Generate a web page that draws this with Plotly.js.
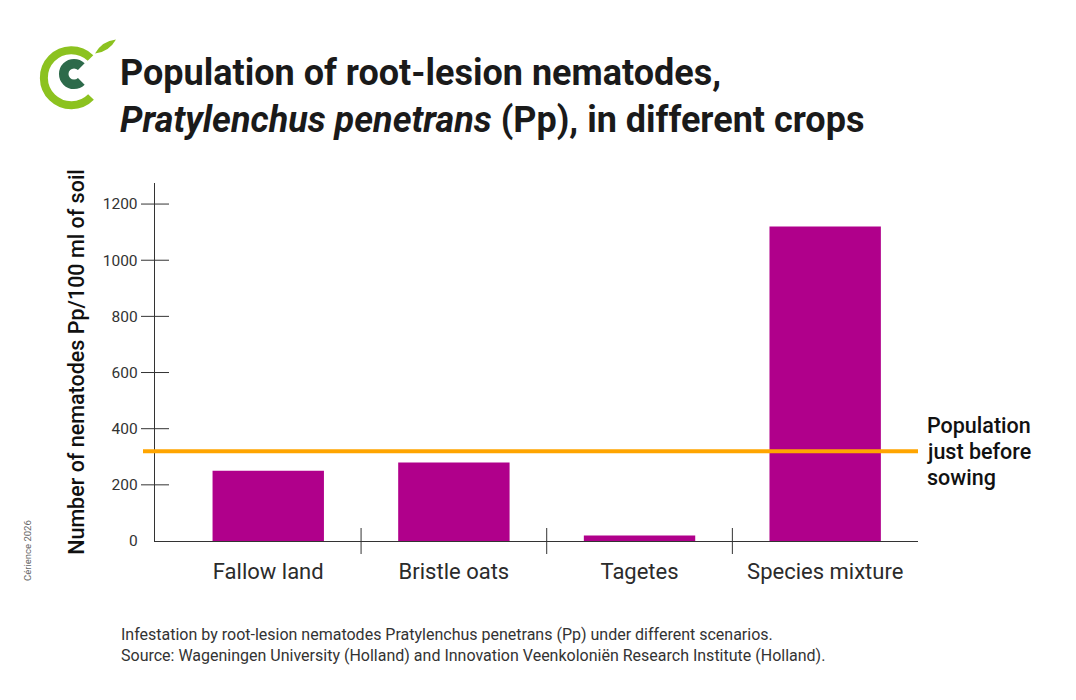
<!DOCTYPE html>
<html><head><meta charset="utf-8">
<script src="https://cdn.plot.ly/plotly-3.0.1.min.js"></script>
<style>html,body{margin:0;padding:0;background:#fff}#chart{width:1076px;height:700px}</style>
</head><body><div id="chart"></div>
<script>
// ---- data ----
const categories = ["Fallow land", "Bristle oats", "Tagetes", "Species mixture"];
const nematodes = [250, 280, 20, 1120];
const populationBeforeSowing = 320;
const yTickValues = [0, 200, 400, 600, 800, 1000, 1200];
const yTickLabels = ["0", "200", "400", "600", "800", "1000", "1200"];
const thresholdLabelLines = ["Population", "just before", "sowing"];
const titleText = "Population of root-lesion nematodes,<br><i>Pratylenchus penetrans</i> (Pp), in different crops";
const yAxisTitle = "Number of nematodes Pp/100 ml of soil";
const footnote = "Infestation by root-lesion nematodes Pratylenchus penetrans (Pp) under different scenarios.<br>Source: Wageningen University (Holland) and Innovation Veenkoloniën Research Institute (Holland).";
const credit = "Cérience 2026";

// ---- geometry helpers ----
const W = 1076, H = 700, M = {l: 155, r: 158, t: 183, b: 159};
const pw = W - M.l - M.r, ph = H - M.t - M.b;
const px = x => (x - M.l) / pw;
const py = y => (H - M.b - y) / ph;

const FONT = "Roboto, 'DejaVu Sans', sans-serif";
const barColor = "#B0008B";
const lineColor = "#FFA500";
const axisColor = "#333333";

// logo as inline svg
const logoSvg = `<svg xmlns="http://www.w3.org/2000/svg" viewBox="36 36 84 76" width="84" height="76">
<path d="M 90.5 56 A 27.5 27.5 0 1 0 91 95" fill="none" stroke="#8CC21F" stroke-width="8"/>
<path d="M 81.3 64.7 A 10.3 10.3 0 1 0 81.3 79.3" fill="none" stroke="#2D6A4A" stroke-width="9.5"/>
<path d="M 95 51.5 Q 102 39 116 37.5 Q 109 50 95 51.5 Z" fill="#8CC21F"/>
</svg>`;

const shapes = [];
// y cross ticks
yTickValues.filter(v => v > 0).forEach(v => shapes.push({
  type: "line", xref: "paper", yref: "y", xsizemode: "pixel", xanchor: 0,
  x0: -14, x1: 14, y0: v, y1: v, line: {color: axisColor, width: 1}
}));
// category dividers (cross the baseline)
for (let i = 1; i < categories.length; i++) {
  shapes.push({
    type: "line", xref: "x", yref: "paper", ysizemode: "pixel", yanchor: 0,
    x0: i - 0.5, x1: i - 0.5, y0: -13, y1: 13, line: {color: axisColor, width: 1}
  });
}
// threshold line
shapes.push({
  type: "line", xref: "paper", yref: "y", x0: px(143), x1: 1,
  y0: populationBeforeSowing, y1: populationBeforeSowing,
  line: {color: lineColor, width: 4}, layer: "above"
});

const trace = {
  type: "bar", x: categories, y: nematodes, width: 0.6,
  marker: {color: barColor, line: {width: 0}}, hoverinfo: "x+y"
};

const annotations = thresholdLabelLines.map((t, i) => ({
  text: t, xref: "paper", yref: "y", x: 1, y: populationBeforeSowing,
  xanchor: "left", yanchor: "middle", xshift: 7, yshift: (1 - i) * 26,
  align: "left", showarrow: false,
  font: {family: FONT, size: 21.5, color: "#111111", weight: 500}
}));
annotations.push(
  {
    text: footnote, xref: "paper", yref: "paper", x: px(119), y: py(623),
    xanchor: "left", yanchor: "top", align: "left", showarrow: false,
    font: {family: FONT, size: 16, color: "#333333"}
  },
  {
    text: credit, xref: "paper", yref: "paper", x: px(27), y: py(551),
    xanchor: "center", yanchor: "middle", textangle: -90, showarrow: false,
    font: {family: FONT, size: 9.5, color: "#666666"}
  }
);

const layout = {
  width: W, height: H, margin: M,
  paper_bgcolor: "#ffffff", plot_bgcolor: "#ffffff",
  font: {family: FONT, color: axisColor},
  showlegend: false,
  bargap: 0.4,
  title: {
    text: titleText, xref: "container", yref: "container",
    x: 120 / W, xanchor: "left", y: 1 - 85 / H, yanchor: "top",
    font: {family: FONT, size: 36, color: "#1a1a1a", weight: 700}
  },
  xaxis: {
    type: "category", range: [-0.61, 3.5], showline: true, linecolor: axisColor, linewidth: 1.3,
    ticks: "outside", ticklen: 10, tickcolor: "rgba(0,0,0,0)", showgrid: false, zeroline: false,
    tickfont: {family: FONT, size: 22, color: "#2b2b2b"}, fixedrange: true
  },
  yaxis: {
    range: [0, 1275], showline: true, linecolor: axisColor, linewidth: 1.3,
    tickvals: yTickValues, ticktext: yTickLabels,
    ticks: "outside", ticklen: 11, tickcolor: "rgba(0,0,0,0)", ticklabelstandoff: 2,
    showgrid: false, zeroline: false,
    tickfont: {family: FONT, size: 15.5, color: "#333333"},
    title: {text: yAxisTitle, standoff: 12, font: {family: FONT, size: 21.5, color: "#111111", weight: 500}},
    fixedrange: true
  },
  shapes: shapes,
  annotations: annotations,
  images: [{
    source: "data:image/svg+xml;charset=utf-8," + encodeURIComponent(logoSvg),
    xref: "paper", yref: "paper", x: px(36), y: py(38),
    sizex: 84 / pw, sizey: 76 / ph, xanchor: "left", yanchor: "top",
    sizing: "stretch", layer: "above"
  }]
};

Plotly.newPlot("chart", [trace], layout, {displayModeBar: false, staticPlot: true});
</script>
</body></html>
